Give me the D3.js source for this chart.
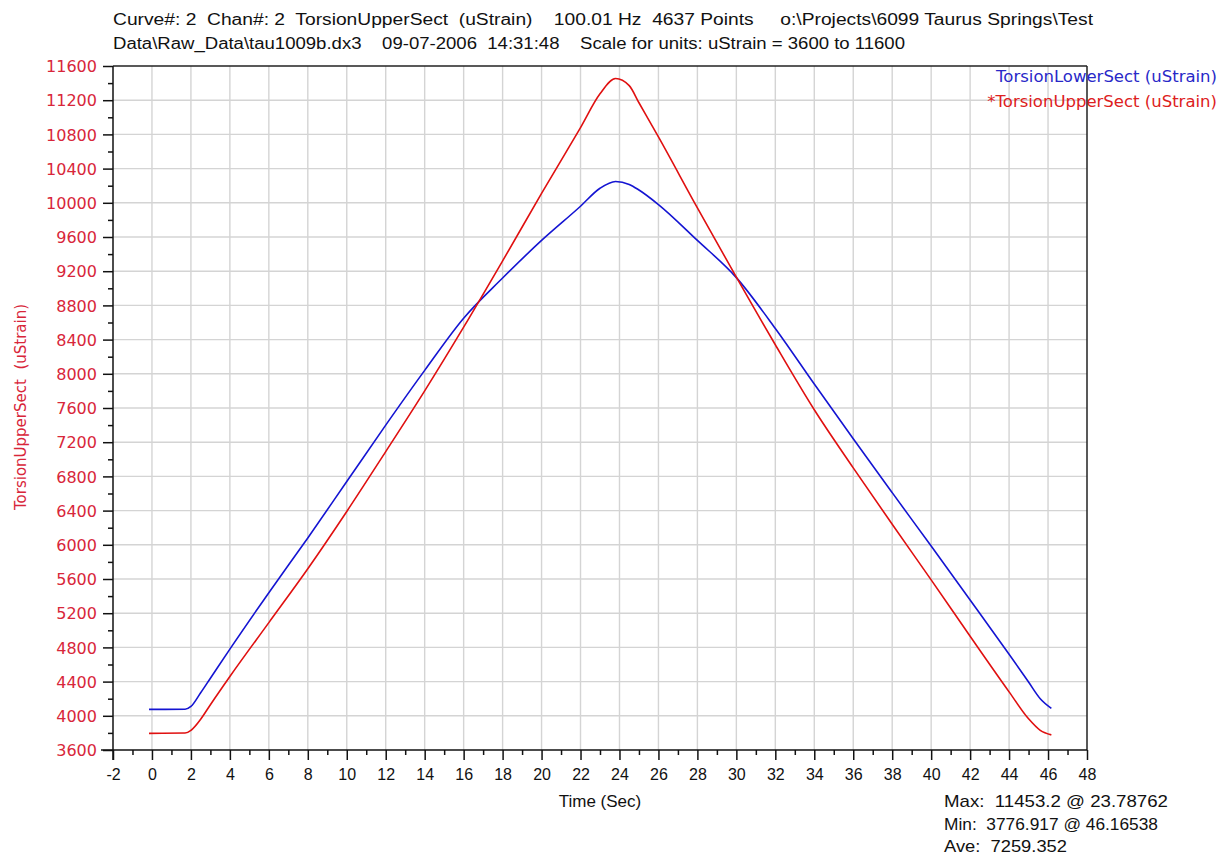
<!DOCTYPE html>
<html>
<head>
<meta charset="utf-8">
<script src="https://cdn.jsdelivr.net/npm/d3@7"></script>
<style>
  html, body { margin: 0; padding: 0; background: #fff; }
  svg { display: block; }
</style>
</head>
<body>
<svg id="chart" width="1224" height="856"></svg>
<script>
// ---- data ----
const times = [-0.15, 1.7, 2.0, 2.5, 3, 4, 6, 8, 10, 12, 14, 16, 18, 20, 22, 23, 23.8, 24.5, 25, 26, 28, 30, 32, 34, 36, 38, 40, 42, 44, 45, 45.6, 46.17];
const upperSect = [3795, 3798, 3830, 3960, 4130, 4460, 5090, 5720, 6390, 7090, 7800, 8545, 9320, 10110, 10880, 11275, 11453, 11370, 11170, 10770, 9940, 9130, 8340, 7580, 6900, 6240, 5590, 4930, 4280, 3965, 3830, 3777];
const lowerSect = [4075, 4077, 4110, 4270, 4440, 4780, 5440, 6080, 6740, 7400, 8040, 8650, 9120, 9560, 9960, 10170, 10250, 10215, 10150, 9980, 9560, 9125, 8530, 7880, 7240, 6610, 5985, 5355, 4720, 4395, 4200, 4087];

const xMajorTicks = [-2, 0, 2, 4, 6, 8, 10, 12, 14, 16, 18, 20, 22, 24, 26, 28, 30, 32, 34, 36, 38, 40, 42, 44, 46, 48];
const xMinorTicks = [-1, 1, 3, 5, 7, 9, 11, 13, 15, 17, 19, 21, 23, 25, 27, 29, 31, 33, 35, 37, 39, 41, 43, 45, 47];
const yMajorTicks = [3600, 4000, 4400, 4800, 5200, 5600, 6000, 6400, 6800, 7200, 7600, 8000, 8400, 8800, 9200, 9600, 10000, 10400, 10800, 11200, 11600];
const yMinorTicks = [3800, 4200, 4600, 5000, 5400, 5800, 6200, 6600, 7000, 7400, 7800, 8200, 8600, 9000, 9400, 9800, 10200, 10600, 11000, 11400];

const titleLines = [
  "Curve#: 2  Chan#: 2  TorsionUpperSect  (uStrain)    100.01 Hz  4637 Points     o:\\Projects\\6099 Taurus Springs\\Test",
  "Data\\Raw_Data\\tau1009b.dx3    09-07-2006  14:31:48    Scale for units: uStrain = 3600 to 11600"
];
const legendLabels = ["TorsionLowerSect (uStrain)", "*TorsionUpperSect (uStrain)"];
const statsLines = ["Max:  11453.2 @ 23.78762", "Min:  3776.917 @ 46.16538", "Ave:  7259.352"];

// ---- layout ----
const svg = d3.select("#chart");
const L = 113, R = 1087, T = 66, B = 750;
const x = d3.scaleLinear().domain([-2, 48]).range([L, R]);
const y = d3.scaleLinear().domain([3600, 11600]).range([B, T]);

const RED = "#e01010", BLUE = "#1414d2";
const LABEL_RED = "#d8263a";
const narrow = "'Liberation Sans Narrow', 'Liberation Sans', Arial, sans-serif";
const wide = "'DejaVu Sans', Verdana, sans-serif";

// grid
const grid = svg.append("g").attr("stroke", "#d4d4d4").attr("stroke-width", 1.4);
grid.selectAll("line.v").data(xMajorTicks.filter(d => d > -2 && d < 48)).join("line")
  .attr("class", "v")
  .attr("x1", d => x(d)).attr("x2", d => x(d)).attr("y1", T).attr("y2", B);
grid.selectAll("line.h").data(yMajorTicks.filter(d => d > 3600 && d < 11600)).join("line")
  .attr("class", "h")
  .attr("x1", L).attr("x2", R).attr("y1", d => y(d)).attr("y2", d => y(d));

// frame (top & right)
svg.append("line").attr("x1", L).attr("x2", R).attr("y1", T).attr("y2", T).attr("stroke", "#222").attr("stroke-width", 1.5);
svg.append("line").attr("x1", R).attr("x2", R).attr("y1", T).attr("y2", B).attr("stroke", "#222").attr("stroke-width", 1.5);

// y axis
const yAxisG = svg.append("g").attr("transform", `translate(${L},0)`)
  .call(d3.axisLeft(y).tickValues(yMajorTicks).tickSize(10).tickPadding(6).tickFormat(d => String(d)));
svg.append("g").attr("transform", `translate(${L},0)`)
  .call(d3.axisLeft(y).tickValues(yMinorTicks).tickSize(5).tickFormat(""))
  .call(g => g.select(".domain").remove());
yAxisG.select(".domain").attr("d", `M0,${T}V${B + 10}`);
yAxisG.selectAll("text").attr("fill", LABEL_RED).style("font-family", wide).style("font-size", "16px").attr("dy", "0.36em")
  .attr("textLength", d => String(d).length * 10.2).attr("lengthAdjust", "spacingAndGlyphs");

// x axis
const xAxisG = svg.append("g").attr("transform", `translate(0,${B})`)
  .call(d3.axisBottom(x).tickValues(xMajorTicks).tickSize(10).tickPadding(9).tickFormat(d => String(d)));
svg.append("g").attr("transform", `translate(0,${B})`)
  .call(d3.axisBottom(x).tickValues(xMinorTicks).tickSize(5).tickFormat(""))
  .call(g => g.select(".domain").remove());
xAxisG.select(".domain").attr("d", `M${L - 12},0H${R}`);
xAxisG.selectAll("text").attr("fill", "#111").style("font-family", narrow).style("font-size", "16px");
svg.selectAll(".tick line, .domain").attr("stroke", "#111").attr("stroke-width", 1.5);

// lines
const line = d3.line().x(d => x(d[0])).y(d => y(d[1])).curve(d3.curveMonotoneX);
svg.append("path").datum(times.map((t, i) => [t, lowerSect[i]]))
  .attr("d", line).attr("fill", "none").attr("stroke", BLUE).attr("stroke-width", 1.6);
svg.append("path").datum(times.map((t, i) => [t, upperSect[i]]))
  .attr("d", line).attr("fill", "none").attr("stroke", RED).attr("stroke-width", 1.6);

// titles
svg.selectAll("text.title").data(titleLines).join("text").attr("class", "title")
  .attr("x", 113).attr("y", (d, i) => 25 + i * 24)
  .attr("textLength", (d, i) => i === 0 ? 980 : 792).attr("lengthAdjust", "spacingAndGlyphs")
  .style("font-family", narrow).style("font-size", "16px").attr("fill", "#111")
  .style("white-space", "pre")
  .text(d => d);

// legend
svg.selectAll("text.legend").data(legendLabels).join("text").attr("class", "legend")
  .attr("x", 1217).attr("y", (d, i) => 82 + i * 25).attr("text-anchor", "end")
  .style("font-family", wide).style("font-size", "16.5px")
  .attr("fill", (d, i) => i === 0 ? "#2828c8" : "#dd2020")
  .text(d => d);

// axis titles
svg.append("text").attr("transform", "translate(26,407) rotate(-90)").attr("text-anchor", "middle")
  .style("font-family", wide).style("font-size", "15px").attr("fill", LABEL_RED)
  .style("white-space", "pre").text("TorsionUpperSect  (uStrain)");
svg.append("text").attr("x", 600).attr("y", 807).attr("text-anchor", "middle")
  .style("font-family", narrow).style("font-size", "17px").attr("fill", "#111").text("Time (Sec)");

// stats
const statsWidths = [224, 214, 123];
svg.selectAll("text.stats").data(statsLines).join("text").attr("class", "stats")
  .attr("x", 944).attr("y", (d, i) => 807 + i * 22.5)
  .attr("textLength", (d, i) => statsWidths[i]).attr("lengthAdjust", "spacingAndGlyphs")
  .style("font-family", "'Liberation Sans', Arial, sans-serif").style("font-size", "17px")
  .style("white-space", "pre").attr("fill", "#111").text(d => d);
</script>
</body>
</html>
